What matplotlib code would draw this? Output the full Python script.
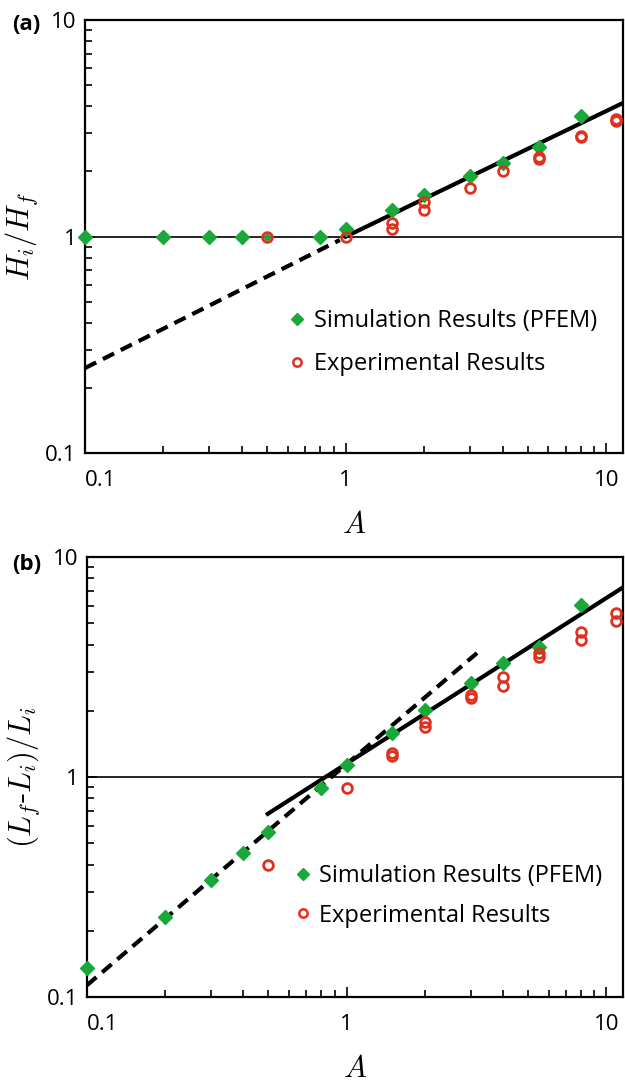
import matplotlib
matplotlib.use("Agg")
import matplotlib.pyplot as plt
from matplotlib.lines import Line2D

plt.rcParams['font.family'] = ['Open Sans', 'DejaVu Sans']
plt.rcParams['mathtext.fontset'] = 'cm'

VERDE = '#1aa83a'
ROJO = '#e0301e'

# ---- panel (a): Hi/Hf vs A ----
sim_a_x = [0.1, 0.2, 0.3, 0.4, 0.8, 1.0, 1.5, 2, 3, 4, 5.5, 8]
sim_a_y = [1.0, 1.0, 1.0, 1.0, 1.0, 1.085, 1.33, 1.56, 1.90, 2.19, 2.59, 3.62]
# punto de simulacion tapado por el circulo experimental en A=0.5
sim_a_oculto_x = [0.5]
sim_a_oculto_y = [1.0]
exp_a_x = [0.5, 1.0, 1.5, 1.5, 2, 2, 3, 4, 5.5, 5.5, 8, 8, 10.9, 10.9]
exp_a_y = [1.0, 1.0, 1.16, 1.09, 1.44, 1.33, 1.68, 2.01, 2.34, 2.28, 2.93, 2.88, 3.49, 3.43]
recta_a_x = [1.0, 11.6]
recta_a_y = [1.0, 4.15]
guion_a_x = [0.1, 0.95]
guion_a_y = [0.247, 0.965]

# ---- panel (b): (Lf-Li)/Li vs A ----
sim_b_x = [0.1, 0.2, 0.3, 0.4, 0.5, 0.8, 1.0, 1.5, 2, 3, 4, 5.5, 8]
sim_b_y = [0.135, 0.231, 0.339, 0.453, 0.562, 0.889, 1.13, 1.58, 2.02, 2.68, 3.29, 3.91, 6.05]
exp_b_x = [0.5, 1.0, 1.5, 1.5, 2, 2, 3, 3, 4, 4, 5.5, 5.5, 8, 8, 10.9, 10.9]
exp_b_y = [0.397, 0.889, 1.29, 1.25, 1.78, 1.69, 2.36, 2.28, 2.86, 2.60, 3.65, 3.50, 4.57, 4.20, 5.55, 5.12]
recta_b_x = [0.497, 11.7]
recta_b_y = [0.68, 7.33]
guion_b_x = [0.1, 3.22]
guion_b_y = [0.113, 3.71]

etiquetas_x = ['0.1', '1', '10']
etiquetas_y = ['0.1', '1', '10']


def preparar_ejes(ax, etiqueta_y):
    ax.set_xscale('log')
    ax.set_yscale('log')
    ax.set_xlim(0.1, 11.6)
    ax.set_ylim(0.1, 10)
    for lado in ax.spines.values():
        lado.set_linewidth(1.6)
    ax.tick_params(which='both', direction='in', top=False, right=False, width=1.2)
    ax.tick_params(which='major', length=7)
    ax.tick_params(which='minor', length=5)
    ax.tick_params(axis='x', which='major', pad=12, labelsize=16)
    ax.tick_params(axis='y', which='major', pad=6, labelsize=16)
    ax.set_xticks([0.1, 1, 10])
    ax.set_xticklabels(etiquetas_x)
    ax.set_yticks([0.1, 1, 10])
    ax.set_yticklabels(etiquetas_y)
    ax.get_xticklabels()[0].set_horizontalalignment('left')
    ax.axhline(1.0, color='black', lw=1.2, zorder=1)
    ax.set_xlabel(r'$A$', fontsize=22, labelpad=14)
    ax.set_ylabel(etiqueta_y, fontsize=22, labelpad=4)


def leyenda(ax, ancla, espacio):
    manejadores = [
        Line2D([], [], ls='none', marker='D', ms=6.5, color=VERDE, mec=VERDE),
        Line2D([], [], ls='none', marker='o', ms=6, mfc='white', mec=ROJO, mew=1.8),
    ]
    ax.legend(manejadores, ['Simulation Results (PFEM)', 'Experimental Results'],
              loc='center left', bbox_to_anchor=ancla, frameon=False, fontsize=17,
              handlelength=0.6, handletextpad=0.4, labelspacing=espacio, borderaxespad=0,
              borderpad=0)


fig = plt.figure(figsize=(6.25, 10.82), dpi=100)

ax_a = fig.add_axes([0.136, 0.5813, 0.861, 0.400])
preparar_ejes(ax_a, r'$H_i/H_f$')
ax_a.plot(guion_a_x, guion_a_y, color='black', lw=3, dashes=(3, 1.8), zorder=2)
ax_a.plot(recta_a_x, recta_a_y, color='black', lw=3, zorder=2)
ax_a.plot(sim_a_oculto_x, sim_a_oculto_y, ls='none', marker='o', ms=4, color=VERDE, zorder=3)
ax_a.plot(sim_a_x, sim_a_y, ls='none', marker='D', ms=7, color=VERDE, mec=VERDE, zorder=3, clip_on=False)
ax_a.plot(exp_a_x, exp_a_y, ls='none', marker='o', ms=7, mfc='none', mec=ROJO, mew=2, zorder=4, clip_on=False)
leyenda(ax_a, (0.381, 0.255), 0.8)

ax_b = fig.add_axes([0.139, 0.0786, 0.858, 0.4066])
preparar_ejes(ax_b, r'$(L_f\text{-}L_i)/L_i$')
ax_b.plot(guion_b_x, guion_b_y, color='black', lw=3, dashes=(3, 1.8), zorder=2)
ax_b.plot(recta_b_x, recta_b_y, color='black', lw=3, zorder=2)
ax_b.plot(sim_b_x, sim_b_y, ls='none', marker='D', ms=7, color=VERDE, mec=VERDE, zorder=3, clip_on=False)
ax_b.plot(exp_b_x, exp_b_y, ls='none', marker='o', ms=7, mfc='none', mec=ROJO, mew=2, zorder=4, clip_on=False)
leyenda(ax_b, (0.389, 0.23), 0.67)

fig.text(0.02, 0.977, '(a)', fontsize=16, fontweight='bold', va='center', ha='left')
fig.text(0.02, 0.478, '(b)', fontsize=16, fontweight='bold', va='center', ha='left')

fig.savefig('out.png', dpi=100)
